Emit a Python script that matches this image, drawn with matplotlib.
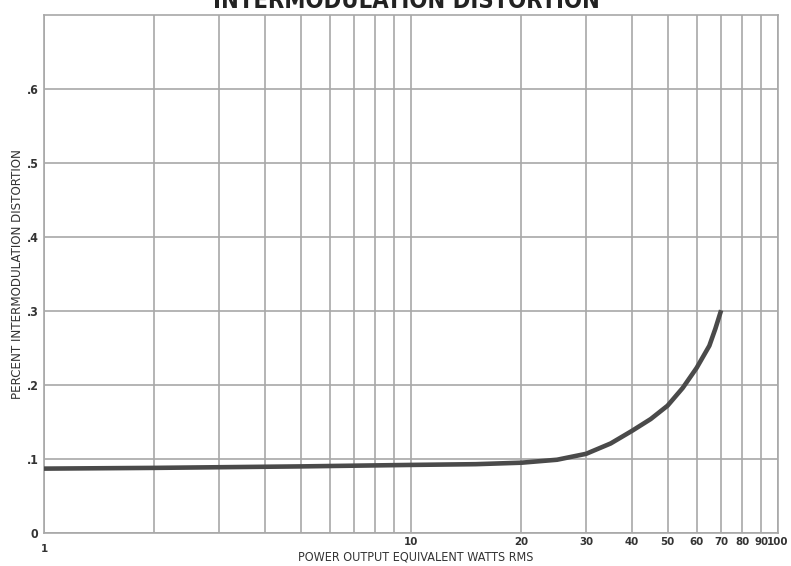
import matplotlib
matplotlib.use("Agg")
import matplotlib.pyplot as plt

power_watts = [1, 2, 5, 10, 15, 20, 25, 30, 35, 40, 45, 50, 55, 60, 65, 67.5, 70]
imd_percent = [0.087, 0.088, 0.090, 0.092, 0.093, 0.095, 0.099, 0.107, 0.121,
               0.138, 0.154, 0.172, 0.196, 0.223, 0.253, 0.276, 0.301]

x_grid = [2, 3, 4, 5, 6, 7, 8, 9, 10, 20, 30, 40, 50, 60, 70, 80, 90, 100]
x_labels = ["", "", "", "", "", "", "", "", "10", "20", "30", "40", "50",
            "60", "70", "80", "90", "100"]
y_ticks = [0, 0.1, 0.2, 0.3, 0.4, 0.5, 0.6]
y_labels = ["0", ".1", ".2", ".3", ".4", ".5", ".6"]

title = "INTERMODULATION DISTORTION"
xlabel = "POWER OUTPUT EQUIVALENT WATTS RMS"
ylabel = "PERCENT INTERMODULATION DISTORTION"

font = ["DejaVu Sans", "Liberation Sans"]
grid_c = "#a8a8a8"
text_c = "#333333"

fig = plt.figure(figsize=(7.91, 5.66), dpi=100)
ax = fig.add_axes([44 / 791, 33 / 566, (778 - 44) / 791, (533 - 15) / 566])
ax.set_xscale("log")
ax.set_xlim(1, 100)
ax.set_ylim(0, 0.7)

tk = dict(family=font, fontsize=8.2, color=text_c, fontstretch="condensed",
          fontweight="semibold")
ax.set_xticks(x_grid)
ax.set_xticklabels(x_labels, **tk)
ax.set_xticks([1], minor=True)
ax.set_xticklabels(["1"], minor=True, **tk)
ax.set_yticks(y_ticks)
ax.set_yticklabels(y_labels, **dict(tk, fontsize=8.8))
ax.tick_params(axis="both", which="both", length=0)
ax.tick_params(axis="x", which="major", pad=3)
ax.tick_params(axis="x", which="minor", pad=8)
ax.tick_params(axis="y", pad=4)

ax.grid(True, which="both", color=grid_c, linewidth=1.2)
ax.set_axisbelow(True)
for s in ax.spines.values():
    s.set_color(grid_c)
    s.set_linewidth(1.2)

ax.plot(power_watts, imd_percent, color="#4a4a4a", linewidth=3.3,
        solid_capstyle="butt", solid_joinstyle="round", zorder=3)

lk = dict(family=font, fontsize=9, color=text_c, fontstretch="condensed")
ax.set_xlabel(xlabel, va="center", **lk)
ax.xaxis.set_label_coords((416 - 44) / 734, (533 - 557) / 518)
ax.set_ylabel(ylabel, va="center", **dict(lk, fontsize=9.5))
ax.yaxis.set_label_coords((18 - 44) / 734, 0.5)

fig.text(406 / 791, 1 - 8 / 566, title, family=font, fontsize=17,
         fontweight="bold", fontstretch="condensed", color="#222222",
         ha="center", va="baseline")

fig.savefig("out.png", dpi=100, facecolor="white")
